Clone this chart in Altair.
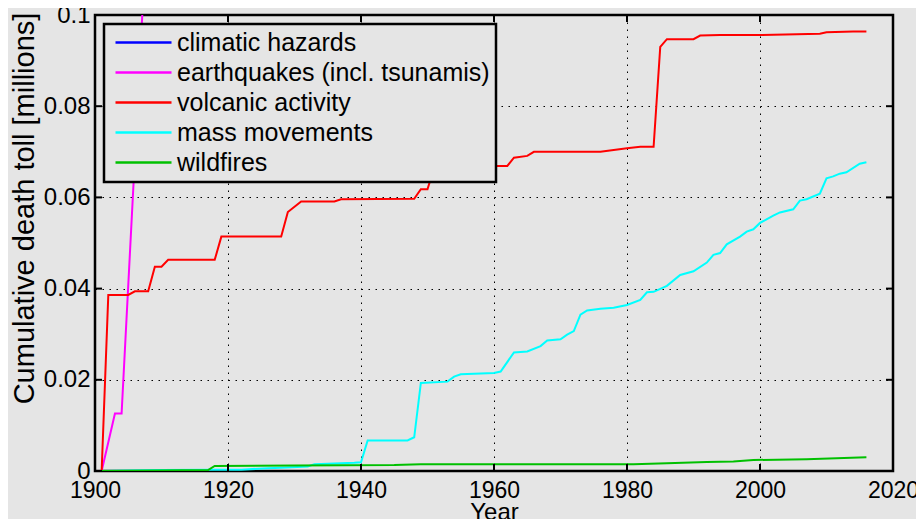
import altair as alt
import pandas as pd

# ---------------- data ----------------
series_names = ["climatic hazards", "earthquakes (incl. tsunamis)", "volcanic activity",
                "mass movements", "wildfires"]
series_colors = ["#0000ff", "#ff00ff", "#ff0000", "#00ffff", "#00c000"]

# climatic hazards: entirely above the visible range (off the top of the axes)
climatic_years = [1901, 1920, 1931, 1960, 2016]
climatic_toll = [1.2, 5.0, 9.0, 12.0, 14.0]

# earthquakes: leaves the visible range around 1907
quake_years = [1901, 1903, 1904, 1908, 1920, 1976, 2016]
quake_toll = [0.0, 0.0126, 0.0126, 0.125, 0.45, 1.3, 2.4]

volcano_years = [1901, 1902, 1905, 1906, 1908, 1909, 1910, 1911, 1918, 1919, 1928, 1929,
                 1931, 1936, 1937, 1948, 1949, 1950, 1951, 1960, 1962, 1963, 1965, 1966,
                 1976, 1980, 1982, 1984, 1985, 1986, 1990, 1991, 1994, 2000, 2009, 2010,
                 2014, 2016]
volcano_toll = [0.0, 0.0386, 0.0386, 0.0394, 0.0394, 0.0448, 0.0448, 0.0463, 0.0463, 0.0514,
                0.0514, 0.0568, 0.0591, 0.0591, 0.0596, 0.0597, 0.0618, 0.0618, 0.0665,
                0.0669, 0.0669, 0.0687, 0.0691, 0.0700, 0.0700, 0.0708, 0.0711, 0.0711,
                0.0930, 0.0947, 0.0947, 0.0955, 0.0956, 0.0956, 0.0959, 0.0962, 0.0964,
                0.0964]

mass_years = [1901, 1910, 1918, 1922, 1926, 1928, 1932, 1933, 1939, 1940, 1941, 1947, 1948,
              1949, 1953, 1954, 1955, 1960, 1961, 1963, 1965, 1967, 1968, 1970, 1971, 1972,
              1973, 1974, 1976, 1978, 1980, 1982, 1983, 1984, 1986, 1988, 1990, 1992, 1993,
              1994, 1995, 1997, 1998, 1999, 2000, 2002, 2003, 2005, 2006, 2007, 2009, 2010,
              2011, 2012, 2013, 2015, 2016]
mass_toll = [0.0, 0.0002, 0.0003, 0.0003, 0.0006, 0.0007, 0.0010, 0.0015, 0.0018, 0.0019,
             0.0067, 0.0067, 0.0074, 0.0193, 0.0196, 0.0207, 0.0212, 0.0215, 0.0218, 0.0260,
             0.0262, 0.0274, 0.0286, 0.0289, 0.0299, 0.0307, 0.0343, 0.0352, 0.0356, 0.0358,
             0.0364, 0.0375, 0.0392, 0.0393, 0.0406, 0.0430, 0.0438, 0.0457, 0.0474, 0.0478,
             0.0497, 0.0514, 0.0525, 0.0530, 0.0544, 0.0560, 0.0567, 0.0574, 0.0593, 0.0596,
             0.0608, 0.0642, 0.0646, 0.0652, 0.0655, 0.0674, 0.0677]

fire_years = [1901, 1917, 1918, 1930, 1945, 1949, 1981, 1986, 1992, 1996, 1999, 2007, 2016]
fire_toll = [0.0, 0.0002, 0.0011, 0.0012, 0.0013, 0.0015, 0.0015, 0.0017, 0.0020, 0.0021,
             0.0024, 0.0026, 0.0030]

x_ticks = [1900, 1920, 1940, 1960, 1980, 2000, 2020]
y_ticks = [0, 0.02, 0.04, 0.06, 0.08, 0.1]

# ---------------- table ----------------
rows = []
all_years = [climatic_years, quake_years, volcano_years, mass_years, fire_years]
all_tolls = [climatic_toll, quake_toll, volcano_toll, mass_toll, fire_toll]
for name, yrs, vals in zip(series_names, all_years, all_tolls):
    for yr, v in zip(yrs, vals):
        rows.append({"series": name, "year": yr, "toll": v})
df = pd.DataFrame(rows)

W, H = 798, 456
BG = "#e5e5e5"
FONT = "Liberation Sans"

xscale = alt.Scale(domain=[1900, 2020], nice=False, zero=False)
yscale = alt.Scale(domain=[0, 0.1], nice=False)

x_axis = alt.Axis(values=x_ticks, format="d", title="Year", grid=True,
                  gridDash=[1.5, 5.5], gridColor="black", gridWidth=1,
                  domain=False, ticks=False, labelFontSize=23, labelPadding=8,
                  labelFlush=False, titleFontSize=24, titleY=48,
                  titleBaseline="alphabetic")
y_axis = alt.Axis(values=y_ticks, format=".2~f", title="Cumulative death toll [millions]",
                  grid=True, gridDash=[1.5, 5.5], gridColor="black", gridWidth=1,
                  domain=False, ticks=False, labelFontSize=24, labelPadding=5,
                  labelFlush=False, titleFontSize=29, titleX=-71, titleY=193,
                  titleAngle=270, titleAlign="center", titleBaseline="middle")

lines = alt.Chart(df).mark_line(clip=True, strokeWidth=2).encode(
    x=alt.X("year:Q", scale=xscale, axis=x_axis),
    y=alt.Y("toll:Q", scale=yscale, axis=y_axis),
    color=alt.Color("series:N",
                    scale=alt.Scale(domain=series_names, range=series_colors),
                    legend=alt.Legend(title=None, orient="none", legendX=9, legendY=9,
                                      symbolType="M-4,0H4", symbolSize=196,
                                      symbolStrokeWidth=2.5, symbolOffset=21,
                                      labelFontSize=25, labelFont=FONT, labelColor="black",
                                      labelLimit=0, padding=6, strokeColor="black",
                                      fillColor=BG, labelOffset=21, rowPadding=4)),
)

ydf = pd.DataFrame({"v": y_ticks})
xdf = pd.DataFrame({"v": x_ticks})

tick_style = dict(color="black", strokeWidth=2)
yt_left = alt.Chart(ydf).mark_rule(**tick_style).encode(
    y=alt.Y("v:Q", scale=yscale, axis=y_axis), x=alt.value(0), x2=alt.value(7))
yt_right = alt.Chart(ydf).mark_rule(**tick_style).encode(
    y=alt.Y("v:Q", scale=yscale, axis=y_axis), x=alt.value(W - 7), x2=alt.value(W))
xt_bottom = alt.Chart(xdf).mark_rule(**tick_style).encode(
    x=alt.X("v:Q", scale=xscale, axis=x_axis), y=alt.value(H - 7), y2=alt.value(H))
xt_top = alt.Chart(xdf).mark_rule(**tick_style).encode(
    x=alt.X("v:Q", scale=xscale, axis=x_axis), y=alt.value(0), y2=alt.value(7))

chart = alt.layer(lines, yt_left, yt_right, xt_bottom, xt_top).properties(
    width=W, height=H,
    padding={"left": 87, "top": 7, "right": 23, "bottom": 48},
    autosize=alt.AutoSizeParams(type="none"),
    background=BG,
).configure_view(
    fill=BG, stroke="black", strokeWidth=2.5
).configure_axis(
    labelFont=FONT, titleFont=FONT, labelColor="black", titleColor="black",
    titleFontWeight="normal"
).configure_legend(
    strokeWidth=2.5
)

chart.save("out.html", embed_options={"renderer": "svg", "actions": False})
